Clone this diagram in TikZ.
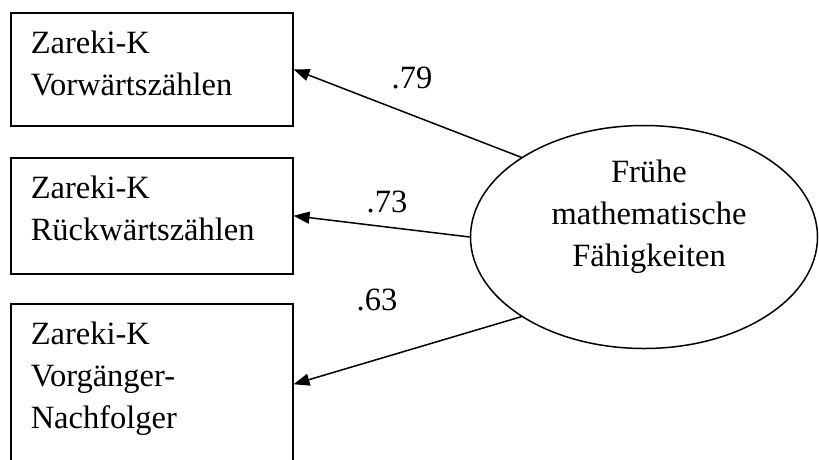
\documentclass[tikz,border=0pt]{standalone}
\usepackage{fontspec}
\setmainfont{Liberation Serif}
\usetikzlibrary{shapes.geometric,arrows.meta}

\begin{document}
\begin{tikzpicture}[x=1pt,y=1pt,font=\fontsize{32.5}{42}\selectfont,
indicator/.style={draw, line width=1.5pt, anchor=north west, align=left,
    text width=242pt, inner xsep=20pt, inner ysep=0pt, text height=41pt},
factor/.style={draw, ellipse, line width=1.5pt, minimum width=347pt,
    minimum height=223pt, inner sep=0pt},
loading/.style={line width=1.5pt, -{Triangle[length=16pt,width=12pt]}},
weight/.style={inner sep=0pt}]
\useasboundingbox (0,0) rectangle (819,-459);
\clip (0,0) rectangle (819,-459);
% manifest variables
\node[indicator, text depth=72pt] (vorw) at (10,-12) {Zareki-K\\Vorwärtszählen};
\node[indicator, text depth=75pt] (rueckw) at (10,-157) {Zareki-K\\Rückwärtszählen};
\node[indicator, text depth=120pt] (vorgnach) at (10,-303) {Zareki-K\\Vorgänger-\\Nachfolger};
% latent factor
\node[factor] (fmf) at (644,-237) {};
\node[align=center, anchor=north, inner sep=0pt] (fmftext) at (649,-160)
    {Frühe\\mathematische\\Fähigkeiten};
% loadings
\draw[loading] (fmf.147) -- (vorw.east);
\draw[loading] (fmf.180) -- (rueckw.east);
\draw[loading] (fmf.213) -- (vorgnach.east);
\node[weight] (w1) at (412,-78) {.79};
\node[weight] (w2) at (387,-202) {.73};
\node[weight] (w3) at (377,-300) {.63};
\end{tikzpicture}
\end{document}
